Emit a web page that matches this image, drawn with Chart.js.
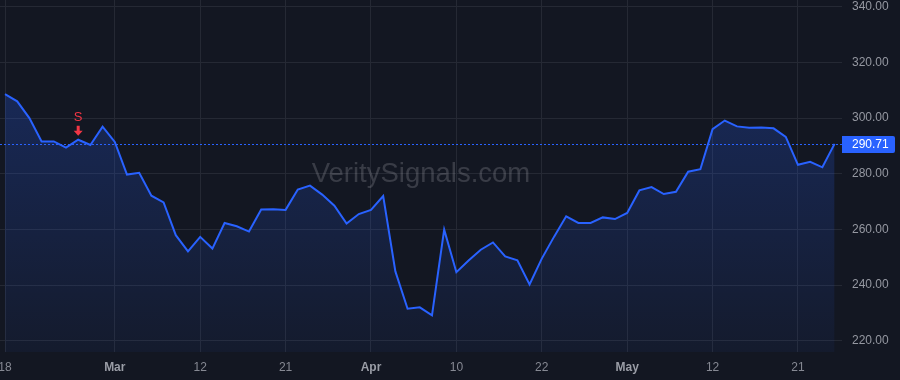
<!DOCTYPE html>
<html>
<head>
<meta charset="utf-8">
<script src="https://cdn.jsdelivr.net/npm/chart.js@4.4.1/dist/chart.umd.min.js"></script>
<style>
  html, body { margin: 0; padding: 0; background: #131722; }
  #wrap { width: 900px; height: 380px; position: relative; }
</style>
</head>
<body>
<div id="wrap"><canvas id="c"></canvas></div>
<script>
// Trading days (Feb 18 – May 27)
const dates = [
  'Feb 18','Feb 19','Feb 20','Feb 21','Feb 24','Feb 25','Feb 26','Feb 27','Feb 28',
  'Mar 3','Mar 4','Mar 5','Mar 6','Mar 7','Mar 10','Mar 11','Mar 12','Mar 13','Mar 14',
  'Mar 17','Mar 18','Mar 19','Mar 20','Mar 21','Mar 24','Mar 25','Mar 26','Mar 27','Mar 28','Mar 31',
  'Apr 1','Apr 2','Apr 3','Apr 4','Apr 7','Apr 8','Apr 9','Apr 10','Apr 11','Apr 14','Apr 15',
  'Apr 16','Apr 17','Apr 21','Apr 22','Apr 23','Apr 24','Apr 25','Apr 28','Apr 29','Apr 30',
  'May 1','May 2','May 5','May 6','May 7','May 8','May 9','May 12','May 13','May 14','May 15',
  'May 16','May 19','May 20','May 21','May 22','May 23','May 27'
];
const prices = [
  308.6, 306.0, 300.0, 291.6, 291.6, 289.4, 292.2, 290.3, 296.9,
  291.4, 279.7, 280.3, 272.1, 269.7, 257.9, 252.1, 257.3, 253.1, 262.3,
  261.1, 259.2, 267.1, 267.2, 267.0, 274.3, 275.7, 272.5, 268.5, 262.1, 265.5,
  267.0, 272.0, 244.9, 231.5, 232.0, 229.1, 259.9, 244.6, 248.8, 252.7, 255.3,
  250.3, 248.9, 240.2, 249.5, 257.3, 264.7, 262.3, 262.3, 264.3, 263.7,
  265.9, 274.0, 275.2, 272.7, 273.5, 280.7, 281.6, 296.0, 299.1, 297.0, 296.5,
  296.6, 296.3, 293.2, 283.2, 284.3, 282.3, 290.71
];
const xTickIndex = [0, 9, 16, 23, 30, 37, 44, 51, 58, 65];
const xTickText  = ['18', 'Mar', '12', '21', 'Apr', '10', '22', 'May', '12', '21'];
const monthTicks = ['Mar', 'Apr', 'May'];
const yTicks = [220, 240, 260, 280, 300, 320, 340];
const signalIndex = 6;
const signalLabel = 'S';
const lastPrice = prices[prices.length - 1];
const watermark = 'VeritySignals.com';

const BG = '#131722';
const GRID = '#252934';
const BLUE = '#2962ff';
const FONT = "'Liberation Sans', Arial, sans-serif";

const points = prices.map((v, i) => ({ x: i, y: v }));

function isMonthTick(ctx) {
  if (!ctx || !ctx.tick) return false;
  const k = xTickIndex.indexOf(ctx.tick.value);
  return k >= 0 && monthTicks.includes(xTickText[k]);
}

const overlay = {
  id: 'overlay',
  beforeDraw(chart) {
    const c = chart.ctx;
    c.save();
    c.fillStyle = BG;
    c.fillRect(0, 0, chart.width, chart.height);
    c.restore();
  },
  beforeDatasetsDraw(chart) {
    const c = chart.ctx, a = chart.chartArea;
    c.save();
    c.font = '27.5px ' + FONT;
    c.fillStyle = 'rgba(178,181,190,0.24)';
    c.textAlign = 'center';
    c.textBaseline = 'middle';
    c.fillText(watermark, (a.left + a.right) / 2, 174);
    c.restore();
  },
  afterDatasetsDraw(chart) {
    const c = chart.ctx, a = chart.chartArea;
    const xs = chart.scales.x, ys = chart.scales.y;
    const py = Math.round(ys.getPixelForValue(lastPrice)) + 0.5;
    c.save();
    c.strokeStyle = BLUE;
    c.lineWidth = 1;
    c.setLineDash([2, 2]);
    c.beginPath();
    c.moveTo(a.left, py);
    c.lineTo(a.right, py);
    c.stroke();
    c.setLineDash([]);
    const bx = a.right, bw = 53, bh = 17;
    c.fillStyle = BLUE;
    c.beginPath();
    c.roundRect(bx, py - bh / 2, bw, bh, [0, 2, 2, 0]);
    c.fill();
    c.fillStyle = '#ffffff';
    c.font = '12px ' + FONT;
    c.textAlign = 'left';
    c.textBaseline = 'middle';
    c.fillText(lastPrice.toFixed(2), bx + 10, py + 0.5);
    const sx = xs.getPixelForValue(signalIndex);
    const sy = ys.getPixelForValue(prices[signalIndex]);
    c.fillStyle = '#f23645';
    c.font = '13px ' + FONT;
    c.textAlign = 'center';
    c.textBaseline = 'middle';
    c.fillText(signalLabel, sx, sy - 22);
    const tip = sy - 4, top = sy - 14;
    c.beginPath();
    c.moveTo(sx - 1.5, top);
    c.lineTo(sx + 1.5, top);
    c.lineTo(sx + 1.5, tip - 5);
    c.lineTo(sx + 4.5, tip - 5);
    c.lineTo(sx, tip);
    c.lineTo(sx - 4.5, tip - 5);
    c.lineTo(sx - 1.5, tip - 5);
    c.closePath();
    c.fill();
    c.restore();
  }
};

new Chart(document.getElementById('c'), {
  type: 'line',
  data: {
    datasets: [{
      data: points,
      borderColor: BLUE,
      borderWidth: 2,
      pointRadius: 0,
      tension: 0,
      fill: 'start',
      backgroundColor(ctx) {
        const a = ctx.chart.chartArea;
        if (!a) return 'rgba(41,98,255,0.15)';
        const g = ctx.chart.ctx.createLinearGradient(0, a.top, 0, a.bottom);
        g.addColorStop(0, 'rgba(41,98,255,0.30)');
        g.addColorStop(1, 'rgba(41,98,255,0.05)');
        return g;
      }
    }]
  },
  options: {
    responsive: true,
    maintainAspectRatio: false,
    animation: false,
    layout: { padding: 0 },
    plugins: { legend: { display: false }, tooltip: { enabled: false } },
    scales: {
      x: {
        type: 'linear',
        min: -0.41,
        max: 68.61,
        grid: { color: GRID, drawTicks: false },
        border: { display: false },
        afterBuildTicks(axis) { axis.ticks = xTickIndex.map(v => ({ value: v })); },
        afterFit(axis) { axis.height = 28; axis.paddingLeft = 0; axis.paddingRight = 0; },
        ticks: {
          autoSkip: false,
          maxRotation: 0,
          padding: 8,
          callback(value) {
            const k = xTickIndex.indexOf(value);
            return k >= 0 ? xTickText[k] : '';
          },
          color(ctx) { return isMonthTick(ctx) ? '#9a9da6' : '#868993'; },
          font(ctx) {
            return { family: FONT, size: 12, weight: isMonthTick(ctx) ? 'bold' : 'normal' };
          }
        }
      },
      y: {
        type: 'linear',
        position: 'right',
        min: 215.94,
        max: 342.41,
        grid: { color: GRID, drawTicks: false },
        border: { display: false },
        afterBuildTicks(axis) { axis.ticks = yTicks.map(v => ({ value: v })); },
        afterFit(axis) { axis.width = 58; axis.paddingTop = 0; axis.paddingBottom = 0; },
        ticks: {
          padding: 10,
          color: '#9598a1',
          font: { family: FONT, size: 12 },
          callback(value) { return value.toFixed(2); }
        }
      }
    }
  },
  plugins: [overlay]
});
</script>
</body>
</html>
